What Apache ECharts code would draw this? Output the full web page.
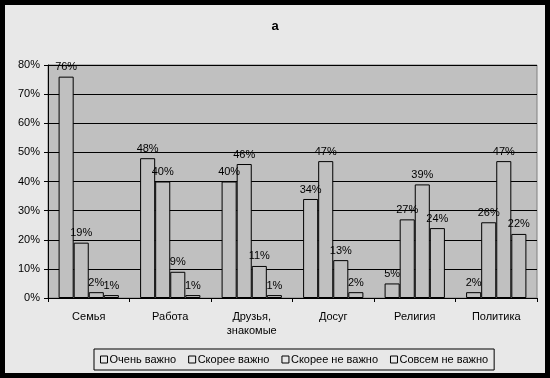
<!DOCTYPE html>
<html>
<head>
<meta charset="utf-8">
<script src="https://cdn.jsdelivr.net/npm/echarts@6/dist/echarts.min.js"></script>
<style>
	html, body{ margin: 0; padding: 0; background: #000; }
	.frame{
		position: absolute;
		left: 5px; top: 5px;
		width: 540px; height: 368px;
		background: #e8e8e8;
	}
	#chart{ width: 540px; height: 368px; }
</style>
</head>
<body>
<div class="frame"><div id="chart"></div></div>
<script>
	// категории и ответы (в процентах)
	var categories = ['Семья', 'Работа', 'Друзья,\nзнакомые', 'Досуг', 'Религия', 'Политика'];
	var seriesNames = ['Очень важно', 'Скорее важно', 'Скорее не важно', 'Совсем не важно'];
	var veryImportant = [76, 48, 40, 34, 5, 2];
	var ratherImportant = [19, 40, 46, 47, 27, 26];
	var ratherNotImportant = [2, 9, 11, 13, 39, 47];
	var notAtAll = [1, 1, 1, 2, 24, 22];
	var yTicks = { min: 0, max: 80, step: 10 };

	var font = 'Arial, "Liberation Sans", sans-serif';
	var values = [veryImportant, ratherImportant, ratherNotImportant, notAtAll];

	var series = seriesNames.map(function(name, i){
		return {
			name: name,
			type: 'bar',
			data: values[i],
			barGap: '0%',
			barCategoryGap: '26%',
			itemStyle: { color: '#c0c0c0', borderColor: '#000', borderWidth: 1 },
			label: {
				show: true,
				position: 'top',
				distance: 4,
				formatter: '{c}%',
				color: '#000',
				fontFamily: font,
				fontSize: 11
			},
			emphasis: { disabled: true }
		};
	});

	var chart = echarts.init(document.getElementById('chart'));
	chart.setOption({
		animation: false,
		title: {
			text: 'а',
			left: 'center',
			top: 10,
			textStyle: { fontFamily: font, fontSize: 13, fontWeight: 'bold', color: '#000' }
		},
		legend: {
			data: seriesNames,
			bottom: 3,
			left: 89,
			icon: 'rect',
			itemWidth: 7,
			itemHeight: 7,
			itemGap: 12,
			padding: [5, 6],
			borderColor: '#000',
			borderWidth: 1,
			textStyle: { fontFamily: font, fontSize: 11, color: '#000', padding: [0, 0, 0, -3] },
			itemStyle: { color: '#e8e8e8', borderColor: '#000', borderWidth: 1 }
		},
		grid: {
			left: 43,
			right: 8,
			top: 60,
			bottom: 75,
			show: true,
			backgroundColor: '#c0c0c0',
			borderColor: '#808080',
			borderWidth: 1
		},
		xAxis: {
			type: 'category',
			data: categories,
			axisLine: { lineStyle: { color: '#000' } },
			axisTick: { show: true, length: 4, lineStyle: { color: '#000' } },
			axisLabel: { color: '#000', fontFamily: font, fontSize: 11, margin: 12, lineHeight: 14 }
		},
		yAxis: {
			type: 'value',
			min: yTicks.min,
			max: yTicks.max,
			interval: yTicks.step,
			axisLine: { show: true, lineStyle: { color: '#000' } },
			axisTick: { show: true, length: 4, lineStyle: { color: '#000' } },
			axisLabel: { formatter: '{value}%', color: '#000', fontFamily: font, fontSize: 11, margin: 8 },
			splitLine: { lineStyle: { color: '#000', width: 1 } }
		},
		series: series
	});
</script>
</body>
</html>
